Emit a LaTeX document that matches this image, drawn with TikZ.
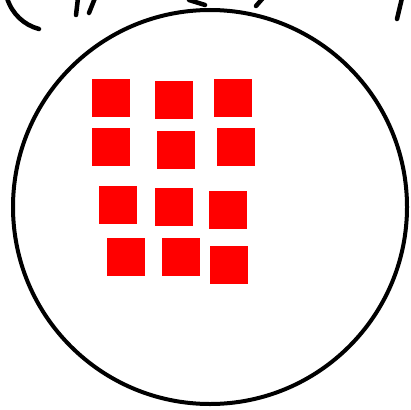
\documentclass[tikz,border=0pt]{standalone}
\usepackage{xcolor}
\usepackage{tikz}
\definecolor{boxred}{HTML}{FF0000}

\begin{document}
\begin{tikzpicture}[x=1pt,y=-1pt,
  sq/.style={fill=boxred,inner sep=0pt,minimum size=38pt},
  pen/.style={line width=4.5pt,line cap=round,black}]
\useasboundingbox (0,0) rectangle (411,409);
\node[draw,circle,line width=4pt,minimum size=394pt,inner sep=0pt](dish) at (210,207){};
\node[sq](a1) at (111,98){};\node[sq](a2) at (174,100){};\node[sq](a3) at (232.5,98.3){};
\node[sq](b1) at (111,146.7){};\node[sq](b2) at (176,150){};\node[sq](b3) at (236,146.7){};
\node[sq](c1) at (117.5,205){};\node[sq](c2) at (174,206.7){};\node[sq](c3) at (227.5,210){};
\node[sq](d1) at (126,256.7){};\node[sq](d2) at (181,256.7){};\node[sq](d3) at (229,265){};
% cut-off handwriting along the top edge
\draw[pen] (7,-2) .. controls (12,14) and (24,25) .. (39,29);
\draw[pen] (78,-2) -- (76,15);
\draw[pen] (95,-2) -- (89,13);
\draw[pen] (189,0) -- (205,5);
\draw[pen] (263,-2) -- (256,6);
\draw[pen] (402,-2) -- (397,19);
\end{tikzpicture}
\end{document}
